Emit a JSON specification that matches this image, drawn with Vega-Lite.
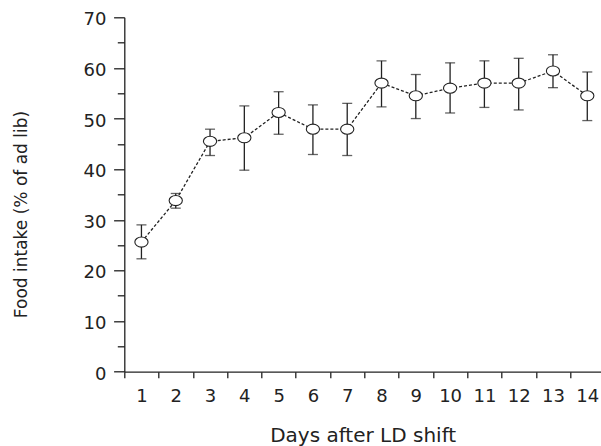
{
  "$schema": "https://vega.github.io/schema/vega-lite/v6.json",
  "width": 476.7,
  "height": 354.4,
  "autosize": {"type": "none"},
  "padding": {"left": 124.3, "top": 17.3, "right": 0, "bottom": 74.3},
  "background": "white",
  "config": {"view": {"stroke": null}, "font": "DejaVu Sans"},
  "resolve": {"axis": {"y": "independent"}},
  "data": {
    "values": [
      {"day": 1, "mean": 25.6, "lo": 22.3, "hi": 29.0},
      {"day": 2, "mean": 33.8, "lo": 32.3, "hi": 35.2},
      {"day": 3, "mean": 45.5, "lo": 42.7, "hi": 47.9},
      {"day": 4, "mean": 46.2, "lo": 39.8, "hi": 52.5},
      {"day": 5, "mean": 51.2, "lo": 46.9, "hi": 55.3},
      {"day": 6, "mean": 47.9, "lo": 42.9, "hi": 52.7},
      {"day": 7, "mean": 47.9, "lo": 42.7, "hi": 53.0},
      {"day": 8, "mean": 57.0, "lo": 52.3, "hi": 61.4},
      {"day": 9, "mean": 54.5, "lo": 50.0, "hi": 58.7},
      {"day": 10, "mean": 56.0, "lo": 51.1, "hi": 61.0},
      {"day": 11, "mean": 57.0, "lo": 52.2, "hi": 61.4},
      {"day": 12, "mean": 57.0, "lo": 51.7, "hi": 61.9},
      {"day": 13, "mean": 59.4, "lo": 56.1, "hi": 62.6},
      {"day": 14, "mean": 54.5, "lo": 49.6, "hi": 59.2}
    ]
  },
  "encoding": {
    "x": {
      "field": "day",
      "type": "quantitative",
      "scale": {"domain": [0.5, 14.4], "nice": false, "zero": false},
      "axis": {
        "title": "Days after LD shift",
        "values": [0.5, 1.5, 2.5, 3.5, 4.5, 5.5, 6.5, 7.5, 8.5, 9.5, 10.5, 11.5, 12.5, 13.5],
        "labelExpr": "format(datum.value + 0.5, 'd')",
        "labelOffset": 17.15,
        "labelFlush": false,
        "labelOverlap": false,
        "labelBound": false,
        "tickSize": 6,
        "labelPadding": 10,
        "labelFontSize": 18,
        "labelFont": "DejaVu Sans",
        "labelColor": "#222",
        "domainColor": "#222",
        "tickColor": "#222",
        "domainWidth": 1.3,
        "tickWidth": 1.3,
        "grid": false,
        "titleFont": "DejaVu Sans",
        "titleFontSize": 20,
        "titleFontWeight": "normal",
        "titleColor": "#222",
        "titleBaseline": "alphabetic",
        "titleY": 70
      }
    }
  },
  "layer": [
    {
      "mark": {"type": "errorbar", "ticks": {"size": 10}, "color": "#222", "thickness": 1.3},
      "encoding": {
        "y": {
          "field": "lo",
          "type": "quantitative",
          "scale": {"domain": [0, 70], "nice": false},
          "axis": {
            "orient": "left",
            "title": null,
            "values": [5, 15, 25, 35, 45, 55, 65],
            "labels": false,
            "domain": false,
            "grid": false,
            "tickSize": 7,
            "tickColor": "#222",
            "tickWidth": 1.3
          }
        },
        "y2": {"field": "hi"}
      }
    },
    {
      "mark": {"type": "line", "color": "#222", "strokeWidth": 1.3, "strokeDash": [3, 2]},
      "encoding": {
        "y": {
          "field": "mean",
          "type": "quantitative",
          "scale": {"domain": [0, 70], "nice": false},
          "axis": {
            "orient": "left",
            "title": "Food intake (% of ad lib)",
            "values": [0, 10, 20, 30, 40, 50, 60, 70],
            "tickSize": 10.7,
            "labelPadding": 7.6,
            "labelOffset": 2.5,
            "labelFontSize": 18,
            "labelFont": "DejaVu Sans",
            "labelColor": "#222",
            "labelFlush": false,
            "labelOverlap": false,
            "domainColor": "#222",
            "tickColor": "#222",
            "domainWidth": 1.3,
            "tickWidth": 1.3,
            "grid": false,
            "titleFont": "DejaVu Sans",
            "titleFontSize": 17,
            "titleFontWeight": "normal",
            "titleColor": "#222",
            "titleBaseline": "alphabetic",
            "titleAlign": "center",
            "titleX": -97.6,
            "titleY": 196.7
          }
        }
      }
    },
    {
      "mark": {
        "type": "point",
        "shape": "M -1 0 A 1 0.76 0 1 0 1 0 A 1 0.76 0 1 0 -1 0 Z",
        "filled": false,
        "fill": "white",
        "fillOpacity": 1,
        "opacity": 1,
        "stroke": "#222",
        "strokeWidth": 1.1,
        "size": 175
      },
      "encoding": {"y": {"field": "mean", "type": "quantitative", "axis": null}}
    }
  ]
}
